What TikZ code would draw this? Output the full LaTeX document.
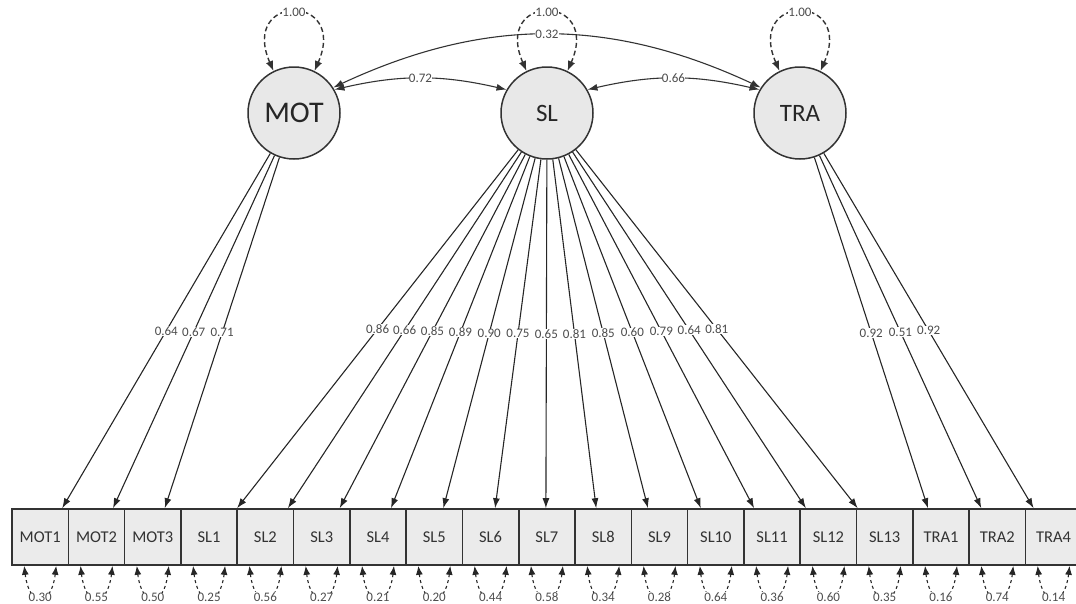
\documentclass[tikz,border=0pt]{standalone}
\usepackage{fontspec}
\setmainfont{Carlito}
\usetikzlibrary{arrows.meta}

\begin{document}
\begin{tikzpicture}[x=1pt, y=1pt,
    % Styles
    latent/.style={circle, draw=black!80, fill=black!9, line width=1.5pt, minimum size=92pt, inner sep=0pt, font=\fontsize{25}{25}\selectfont, text=black!85},
    obs/.style={rectangle, draw=black!80, fill=black!8, line width=1.6pt, minimum width=56.3pt, minimum height=56pt, inner sep=0pt, font=\fontsize{16.5}{16.5}\selectfont, text=black!80},
    load-arrow/.style={-{Latex[length=10pt, width=7pt]}, line width=1.1pt, black!85},
    cov-arrow/.style={{Latex[length=10pt, width=7pt]}-{Latex[length=10pt, width=7pt]}, line width=1.1pt, black!80},
    var-loop/.style={{Latex[length=10pt, width=7.5pt]}-{Latex[length=10pt, width=7.5pt]}, dash pattern=on 5pt off 3pt, line width=1.4pt, black!80},
    res-loop/.style={{Latex[length=9pt, width=7pt]}-{Latex[length=9pt, width=7pt]}, dash pattern=on 3pt off 3pt, line width=1.1pt, black!85},
    est/.style={fill=white, inner sep=0.4pt, text=black!70, font=\fontsize{13}{13}\selectfont},
]
\useasboundingbox (0,0) rectangle (1076,-603);

% Latent factors
\node[latent, font=\fontsize{30}{30}\selectfont] (mot) at (294,-113) {MOT};
\node[latent] (sl) at (547,-113) {SL};
\node[latent] (tra) at (800,-113) {TRA};

% Factor variances
\draw[var-loop] (mot.116) .. controls +(-34,78) and +(34,78) .. node[est]{1.00} (mot.64);
\draw[var-loop] (sl.116) .. controls +(-34,78) and +(34,78) .. node[est]{1.00} (sl.64);
\draw[var-loop] (tra.116) .. controls +(-34,78) and +(34,78) .. node[est]{1.00} (tra.64);

% Factor covariances
\draw[cov-arrow] (mot.30) to[out=13, in=167] node[est]{0.72} (sl.150);
\draw[cov-arrow] (sl.30) to[out=13, in=167] node[est]{0.66} (tra.150);
\draw[cov-arrow] (mot.33) to[out=25, in=155] node[est]{0.32} (tra.147);

% Indicators
\node[obs] (mot1) at (40.2,-537) {MOT1};
\node[obs] (mot2) at (96.5,-537) {MOT2};
\node[obs] (mot3) at (152.8,-537) {MOT3};
\node[obs] (sl1) at (209.1,-537) {SL1};
\node[obs] (sl2) at (265.4,-537) {SL2};
\node[obs] (sl3) at (321.7,-537) {SL3};
\node[obs] (sl4) at (378.0,-537) {SL4};
\node[obs] (sl5) at (434.3,-537) {SL5};
\node[obs] (sl6) at (490.6,-537) {SL6};
\node[obs] (sl7) at (546.9,-537) {SL7};
\node[obs] (sl8) at (603.2,-537) {SL8};
\node[obs] (sl9) at (659.5,-537) {SL9};
\node[obs] (sl10) at (715.8,-537) {SL10};
\node[obs] (sl11) at (772.1,-537) {SL11};
\node[obs] (sl12) at (828.4,-537) {SL12};
\node[obs] (sl13) at (884.7,-537) {SL13};
\node[obs] (tra1) at (941.0,-537) {TRA1};
\node[obs] (tra2) at (997.3,-537) {TRA2};
\node[obs] (tra4) at (1053.6,-537) {TRA4};

% Loadings
\draw[load-arrow] (mot) -- node[est]{0.64} ([xshift=22pt]mot1.north);
\draw[load-arrow] (mot) -- node[est]{0.67} ([xshift=16.5pt]mot2.north);
\draw[load-arrow] (mot) -- node[est]{0.71} ([xshift=12pt]mot3.north);

\draw[load-arrow] (sl) -- node[est]{0.86} ([xshift=28pt]sl1.north);
\draw[load-arrow] (sl) -- node[est]{0.66} ([xshift=22.5pt]sl2.north);
\draw[load-arrow] (sl) -- node[est]{0.85} ([xshift=18pt]sl3.north);
\draw[load-arrow] (sl) -- node[est]{0.89} ([xshift=13pt]sl4.north);
\draw[load-arrow] (sl) -- node[est]{0.90} ([xshift=9pt]sl5.north);
\draw[load-arrow] (sl) -- node[est]{0.75} ([xshift=4.5pt]sl6.north);
\draw[load-arrow] (sl) -- node[est]{0.65} ([xshift=-1pt]sl7.north);
\draw[load-arrow] (sl) -- node[est]{0.81} ([xshift=-7pt]sl8.north);
\draw[load-arrow] (sl) -- node[est]{0.85} ([xshift=-11.5pt]sl9.north);
\draw[load-arrow] (sl) -- node[est]{0.60} ([xshift=-15pt]sl10.north);
\draw[load-arrow] (sl) -- node[est]{0.79} ([xshift=-18pt]sl11.north);
\draw[load-arrow] (sl) -- node[est]{0.64} ([xshift=-22.5pt]sl12.north);
\draw[load-arrow] (sl) -- node[est]{0.81} ([xshift=-27pt]sl13.north);

\draw[load-arrow] (tra) -- node[est]{0.92} ([xshift=-13pt]tra1.north);
\draw[load-arrow] (tra) -- node[est]{0.51} ([xshift=-16pt]tra2.north);
\draw[load-arrow] (tra) -- node[est]{0.92} ([xshift=-20pt]tra4.north);

% Residual variances
\draw[res-loop] ([xshift=-16pt]mot1.south) .. controls +(5,-42) and +(-5,-42) .. node[est]{0.30} ([xshift=16pt]mot1.south);
\draw[res-loop] ([xshift=-16pt]mot2.south) .. controls +(5,-42) and +(-5,-42) .. node[est]{0.55} ([xshift=16pt]mot2.south);
\draw[res-loop] ([xshift=-16pt]mot3.south) .. controls +(5,-42) and +(-5,-42) .. node[est]{0.50} ([xshift=16pt]mot3.south);
\draw[res-loop] ([xshift=-16pt]sl1.south) .. controls +(5,-42) and +(-5,-42) .. node[est]{0.25} ([xshift=16pt]sl1.south);
\draw[res-loop] ([xshift=-16pt]sl2.south) .. controls +(5,-42) and +(-5,-42) .. node[est]{0.56} ([xshift=16pt]sl2.south);
\draw[res-loop] ([xshift=-16pt]sl3.south) .. controls +(5,-42) and +(-5,-42) .. node[est]{0.27} ([xshift=16pt]sl3.south);
\draw[res-loop] ([xshift=-16pt]sl4.south) .. controls +(5,-42) and +(-5,-42) .. node[est]{0.21} ([xshift=16pt]sl4.south);
\draw[res-loop] ([xshift=-16pt]sl5.south) .. controls +(5,-42) and +(-5,-42) .. node[est]{0.20} ([xshift=16pt]sl5.south);
\draw[res-loop] ([xshift=-16pt]sl6.south) .. controls +(5,-42) and +(-5,-42) .. node[est]{0.44} ([xshift=16pt]sl6.south);
\draw[res-loop] ([xshift=-16pt]sl7.south) .. controls +(5,-42) and +(-5,-42) .. node[est]{0.58} ([xshift=16pt]sl7.south);
\draw[res-loop] ([xshift=-16pt]sl8.south) .. controls +(5,-42) and +(-5,-42) .. node[est]{0.34} ([xshift=16pt]sl8.south);
\draw[res-loop] ([xshift=-16pt]sl9.south) .. controls +(5,-42) and +(-5,-42) .. node[est]{0.28} ([xshift=16pt]sl9.south);
\draw[res-loop] ([xshift=-16pt]sl10.south) .. controls +(5,-42) and +(-5,-42) .. node[est]{0.64} ([xshift=16pt]sl10.south);
\draw[res-loop] ([xshift=-16pt]sl11.south) .. controls +(5,-42) and +(-5,-42) .. node[est]{0.36} ([xshift=16pt]sl11.south);
\draw[res-loop] ([xshift=-16pt]sl12.south) .. controls +(5,-42) and +(-5,-42) .. node[est]{0.60} ([xshift=16pt]sl12.south);
\draw[res-loop] ([xshift=-16pt]sl13.south) .. controls +(5,-42) and +(-5,-42) .. node[est]{0.35} ([xshift=16pt]sl13.south);
\draw[res-loop] ([xshift=-16pt]tra1.south) .. controls +(5,-42) and +(-5,-42) .. node[est]{0.16} ([xshift=16pt]tra1.south);
\draw[res-loop] ([xshift=-16pt]tra2.south) .. controls +(5,-42) and +(-5,-42) .. node[est]{0.74} ([xshift=16pt]tra2.south);
\draw[res-loop] ([xshift=-16pt]tra4.south) .. controls +(5,-42) and +(-5,-42) .. node[est]{0.14} ([xshift=16pt]tra4.south);

\end{tikzpicture}
\end{document}
